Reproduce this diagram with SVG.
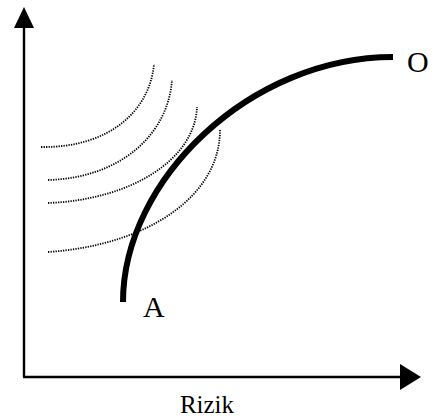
<svg xmlns="http://www.w3.org/2000/svg" width="436" height="420" viewBox="0 0 436 420">
<style>
.axis{stroke:#000;stroke-width:2.4;fill:none}
.dot{stroke:#000;stroke-width:1.8;fill:none;stroke-dasharray:1.3 1.2}
.main{stroke:#000;stroke-width:6;fill:none}
.lbl{font-family:"Liberation Serif",serif;font-size:30px;fill:#000}
</style>
<rect width="436" height="420" fill="#fff"/>
<g id="axes">
<path class="axis" d="M24,377 V26 M23,377 H402"/>
<polygon points="24,7 14,28 34,28" fill="#000"/>
<polygon points="421,377 400,364 400,390" fill="#000"/>
</g>
<g id="indifference">
<path class="dot" d="M41,147 C110,148 150,110 154,64"/>
<path class="dot" d="M48,180 C120,178 168,135 172,80"/>
<path class="dot" d="M48,203 C130,200 195,160 197,107"/>
<path class="dot" d="M48,252 C150,245 220,195 220,130"/>
</g>
<g id="frontier">
<path class="main" d="M123,302 C123,180 250,57 393,57"/>
</g>
<g id="labels">
<text class="lbl" x="143" y="317">A</text>
<text class="lbl" x="407" y="72">O</text>
<text class="lbl" x="207" y="413" text-anchor="middle" style="font-size:25px">Rizik</text>
</g>
</svg>
